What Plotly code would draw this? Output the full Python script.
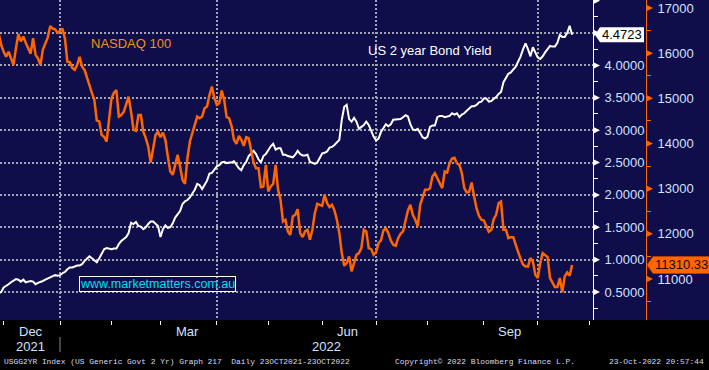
import pandas as pd
import plotly.graph_objects as go

# ---------------- data ----------------
start_date = "2021-11-29"
end_date = "2022-10-21"

# NASDAQ 100, one value per weekday
ndx = [
    16430, 16180, 16030, 15920, 16030, 15885, 15740, 16110, 16425, 16260,
    16370, 16230, 16110, 15990, 16330, 15970, 15880, 15740, 16080, 16200,
    16350, 16600, 16545, 16530, 16450, 16490, 16545, 16320, 15810, 15800,
    15670, 15630, 15740, 15920, 15700, 15630, 15450, 15250, 15120, 14970,
    14510, 14490, 14190, 14150, 14040, 14520, 15000, 15125, 15180, 14595,
    14630, 14700, 14890, 15035, 14700, 14300, 14280, 14630, 14630, 14260,
    14120, 13930, 13579, 13896, 14191, 14257, 14139, 14243, 14080, 13712,
    13380, 13306, 13527, 13749, 13490, 13196, 13107, 13675, 14044, 14228,
    14434, 14597, 14560, 14597, 14781, 14818, 15076, 15260, 15002, 14855,
    14891, 15172, 14965, 14582, 14560, 14390, 14080, 13992, 14169, 14080,
    13948, 14139, 14117, 13874, 13579, 13454, 13454, 13034, 13048, 13527,
    12938, 13048, 13107, 13527, 12975, 12753, 12274, 12311, 12053, 11975,
    12385, 12420, 12547, 12016, 11927, 12053, 12090, 11868, 12090, 12458,
    12665, 12643, 12620, 12864, 12679, 12591, 12643, 12517, 12311, 12016,
    11573, 11293, 11352, 11500, 11168, 11352, 11537, 11573, 11684, 12090,
    12053, 11684, 11662, 11537, 11588, 11795, 11854, 12075, 12119, 12016,
    11854, 11758, 11736, 11905, 12001, 12053, 12274, 12517, 12643, 12421,
    12311, 12163, 12643, 12827, 12975, 12975, 13011, 13269, 13343, 13232,
    13137, 13011, 13380, 13358, 13564, 13667, 13682, 13564, 13527, 13343,
    13011, 12915, 12930, 13137, 12827, 12569, 12399, 12311, 12296, 12149,
    12046, 12090, 12326, 12421, 12679, 12716, 12090, 12090, 11905, 11927,
    11927, 11758, 11588, 11441, 11316, 11279, 11279, 11463, 11390, 11094,
    11021, 11352, 11573, 11537, 11485, 11021, 10910, 10821, 10821, 11021,
    10704, 11057, 11146, 11072, 11310.33,
]

# US 2 year bond yield, one value per weekday
yld = [
    0.48, 0.50, 0.57, 0.59, 0.62, 0.65, 0.67, 0.70, 0.69, 0.66,
    0.69, 0.65, 0.66, 0.67, 0.66, 0.62, 0.64, 0.65, 0.67, 0.69,
    0.71, 0.73, 0.75, 0.76, 0.75, 0.76, 0.79, 0.81, 0.85, 0.88,
    0.88, 0.90, 0.91, 0.91, 0.93, 0.98, 1.02, 1.05, 1.02, 0.99,
    0.96, 1.02, 1.10, 1.16, 1.18, 1.17, 1.16, 1.17, 1.17, 1.24,
    1.29, 1.32, 1.35, 1.41, 1.57, 1.55, 1.58, 1.52, 1.51, 1.47,
    1.50, 1.55, 1.59, 1.59, 1.56, 1.52, 1.35, 1.47, 1.53, 1.49,
    1.50, 1.56, 1.65, 1.71, 1.75, 1.86, 1.90, 1.92, 1.96, 2.02,
    2.08, 2.17, 2.15, 2.09, 2.15, 2.22, 2.33, 2.34, 2.39, 2.44,
    2.46, 2.50, 2.51, 2.49, 2.50, 2.50, 2.52, 2.47, 2.41, 2.38,
    2.46, 2.51, 2.60, 2.64, 2.68, 2.63, 2.55, 2.50, 2.60, 2.63,
    2.70, 2.75, 2.79, 2.70, 2.72, 2.72, 2.62, 2.62, 2.60, 2.59,
    2.58, 2.62, 2.68, 2.63, 2.61, 2.61, 2.62, 2.51, 2.49, 2.48,
    2.50, 2.56, 2.64, 2.65, 2.67, 2.73, 2.74, 2.77, 2.81, 2.85,
    3.16, 3.36, 3.39, 3.17, 3.13, 3.19, 3.13, 3.02, 3.05, 3.08,
    3.13, 3.08, 2.99, 2.90, 2.84, 2.87, 2.97, 3.03, 3.09, 3.06,
    3.09, 3.16, 3.16, 3.16, 3.17, 3.20, 3.23, 3.21, 3.09, 3.01,
    3.00, 3.02, 2.95, 2.89, 2.87, 2.90, 3.05, 3.07, 3.07, 3.20,
    3.22, 3.22, 3.20, 3.21, 3.22, 3.26, 3.24, 3.26, 3.20, 3.24,
    3.26, 3.30, 3.34, 3.37, 3.37, 3.39, 3.43, 3.44, 3.49, 3.49,
    3.44, 3.45, 3.48, 3.51, 3.56, 3.59, 3.74, 3.81, 3.87, 3.89,
    3.93, 3.98, 4.06, 4.14, 4.25, 4.34, 4.25, 4.14, 4.28, 4.20,
    4.12, 4.10, 4.14, 4.20, 4.26, 4.30, 4.29, 4.29, 4.35, 4.47,
    4.44, 4.44, 4.50, 4.61, 4.4723,
]

yld_ticks = [0.5, 1.0, 1.5, 2.0, 2.5, 3.0, 3.5, 4.0, 4.5]
ndx_ticks = [11000, 12000, 13000, 14000, 15000, 16000, 17000]
month_labels = {12: "Dec", 3: "Mar", 6: "Jun", 9: "Sep"}
year_labels = ["2021", "2022"]

# ---------------- layout constants ----------------
W, H = 709, 370
PW, PH = 646, 320          # paper area (plot + 2nd axis)
PLOT_W = 593               # width of the chart area
NAVY = "#100d4b"
ORANGE = "#ff6600"
GRID = "#a4a4b0"
LABEL = "#cfe3ff"
FONT = "Liberation Sans"

dates = pd.bdate_range(start_date, end_date)
xs = list(range(len(dates)))
ext = pd.bdate_range(start_date, "2022-11-30")
month_starts = [i for i in range(1, len(ext)) if ext[i].month != ext[i - 1].month]
quarter_starts = [i for i in month_starts if ext[i].month in (1, 4, 7, 10)]

PX_PER_DAY = 2.45
X_RANGE = [0.5, 0.5 + PLOT_W / PX_PER_DAY]
Y_RANGE = [0.5 - 28 / 64.75, 0.5 + 292 / 64.75]
Y2_RANGE = [17000 - 312 * 22.14, 17000 + 8 * 22.14]

fig = go.Figure()
fig.add_trace(go.Scatter(x=xs, y=ndx, yaxis="y2", mode="lines",
                         line=dict(color=ORANGE, width=2.5), name="NASDAQ 100",
                         customdata=[d.strftime("%d-%b-%Y") for d in dates]))
fig.add_trace(go.Scatter(x=xs, y=yld, yaxis="y", mode="lines",
                         line=dict(color="white", width=2), name="US 2 year Bond Yield",
                         customdata=[d.strftime("%d-%b-%Y") for d in dates]))

last_y, last_n = yld[-1], ndx[-1]

shapes = []
# navy panel behind plot and right axes
shapes.append(dict(type="rect", xref="paper", yref="paper", x0=0, x1=1.2, y0=0, y1=1,
                   fillcolor=NAVY, line=dict(width=0), layer="below"))
# triangle markers on the yield axis
dv = 3.5 / 64.75
ax1 = PLOT_W / PW
for v in yld_ticks + [5.0]:
    shapes.append(dict(type="path", xref="paper", yref="y",
                       path=f"M {ax1},{v - dv} L {(PLOT_W + 7) / PW},{v} L {ax1},{v + dv} Z",
                       fillcolor="white", line=dict(width=0)))
# triangle markers on the NASDAQ axis
dv2 = 3.5 * 22.14
for v in ndx_ticks:
    shapes.append(dict(type="path", xref="paper", yref="y2",
                       path=f"M 1,{v - dv2} L {(PW + 7) / PW},{v} L 1,{v + dv2} Z",
                       fillcolor=ORANGE, line=dict(width=0)))
# last-value label boxes
h1 = 7.5 / 64.75
shapes.append(dict(type="path", xref="paper", yref="y",
                   path=(f"M {595 / PW},{last_y} L {600 / PW},{last_y + h1} L {644 / PW},{last_y + h1} "
                         f"L {644 / PW},{last_y - h1} L {600 / PW},{last_y - h1} Z"),
                   fillcolor="white", line=dict(width=0)))
h2 = 8.5 * 22.14
shapes.append(dict(type="path", xref="paper", yref="y2",
                   path=(f"M {647 / PW},{last_n} L {653 / PW},{last_n + h2} L 1.2,{last_n + h2} "
                         f"L 1.2,{last_n - h2} L {653 / PW},{last_n - h2} Z"),
                   fillcolor=ORANGE, line=dict(width=1, color="#b04000")))
# year separator
shapes.append(dict(type="line", xref="x", yref="paper", x0=quarter_starts[0], x1=quarter_starts[0],
                   y0=(PH - 337) / PH, y1=(PH - 352) / PH, line=dict(color="#8a8a8a", width=1)))

ann = []


def add_text(text, x, y, xref="paper", yref="paper", xanchor="center", **kw):
    ann.append(dict(text=text, x=x, y=y, xref=xref, yref=yref, xanchor=xanchor,
                    yanchor="middle", showarrow=False, **kw))


add_text(f"{last_y:.4f}", 622 / PW, last_y, yref="y",
         font=dict(family=FONT, size=13, color="black"))
add_text(f"{last_n:.2f}", 681 / PW, last_n, yref="y2",
         font=dict(family=FONT, size=13, color="#1a0800"))
add_text("NASDAQ 100", 130.5 / PW, (PH - 44) / PH,
         font=dict(family=FONT, size=13, color="#f39017"))
add_text("US 2 year Bond Yield", 429.5 / PW, (PH - 50) / PH,
         font=dict(family=FONT, size=13, color="white"))
add_text("www.marketmatters.com.au", 157.5 / PW, (PH - 284) / PH,
         bordercolor="white", borderwidth=1, borderpad=0,
         font=dict(family=FONT, size=12.5, color="#00dff0"))
# month labels
for m, lab in month_labels.items():
    idx = [i for i in range(len(ext)) if ext[i].month == m and ext[i] < pd.Timestamp("2022-11-01")]
    add_text(lab, sum(idx) / len(idx), (PH - 331) / PH, xref="x",
             font=dict(family=FONT, size=13, color=LABEL))
# year labels
yc = [(X_RANGE[0] + quarter_starts[0]) / 2, (quarter_starts[0] + X_RANGE[1]) / 2]
for t, xc in zip(year_labels, yc):
    add_text(t, xc, (PH - 346) / PH, xref="x", font=dict(family=FONT, size=13, color=LABEL))
# footer
FOOT = dict(family="Liberation Mono", size=7.9, color="#d4dcf2")
add_text("USGG2YR Index (US Generic Govt 2 Yr) Graph 217  Daily 23OCT2021-23OCT2022",
         2 / PW, (PH - 361) / PH, xanchor="left", font=FOOT)
add_text("Copyright© 2022 Bloomberg Finance L.P.", 393 / PW, (PH - 361) / PH,
         xanchor="left", font=FOOT)
add_text("23-Oct-2022 20:57:44", 706 / PW, (PH - 361) / PH, xanchor="right", font=FOOT)

# the 4.5 label sits under the last-value box, as in the reference
yld_text = [f"{v:.4f}" if abs(v - last_y) > 0.2 else "" for v in yld_ticks]

fig.update_layout(
    width=W, height=H,
    margin=dict(l=0, r=W - PW, t=0, b=H - PH, pad=0),
    paper_bgcolor="black", plot_bgcolor=NAVY,
    showlegend=False,
    shapes=shapes, annotations=ann,
    xaxis=dict(domain=[0, PLOT_W / PW], range=X_RANGE, tickmode="array",
               tickvals=quarter_starts, ticktext=[""] * len(quarter_starts),
               showgrid=True, gridcolor=GRID, gridwidth=2, griddash="2px,2px",
               ticks="outside", ticklen=4, tickcolor="white", tickwidth=1,
               minor=dict(tickmode="array", tickvals=month_starts, ticks="outside",
                          ticklen=4, tickcolor="white", tickwidth=1, showgrid=False),
               showline=False, zeroline=False, fixedrange=True),
    yaxis=dict(range=Y_RANGE, side="right", anchor="x", tickmode="array", tickvals=yld_ticks,
               ticktext=yld_text,
               showgrid=True, gridcolor=GRID, gridwidth=2, griddash="2px,2px",
               ticks="outside", ticklen=8, tickcolor="rgba(0,0,0,0)",
               minor=dict(dtick=0.25, tick0=0.25, ticks="outside", ticklen=4,
                          tickcolor="white", tickwidth=1, showgrid=False),
               showline=True, linecolor="white", linewidth=1, zeroline=False,
               tickfont=dict(family=FONT, size=13, color=LABEL)),
    yaxis2=dict(range=Y2_RANGE, overlaying="y", side="right", anchor="free", position=1,
                tickmode="array", tickvals=ndx_ticks, ticktext=[str(v) for v in ndx_ticks],
                showgrid=False,
                ticks="outside", ticklen=8, tickcolor="rgba(0,0,0,0)",
                minor=dict(dtick=500, tick0=10500, ticks="outside", ticklen=4,
                           tickcolor=ORANGE, tickwidth=1, showgrid=False),
                showline=True, linecolor=ORANGE, linewidth=1, zeroline=False,
                tickfont=dict(family=FONT, size=13, color=LABEL)),
)

fig.write_html("out.html", config={"displayModeBar": False},
               post_script="document.body.style.margin='0px';")
